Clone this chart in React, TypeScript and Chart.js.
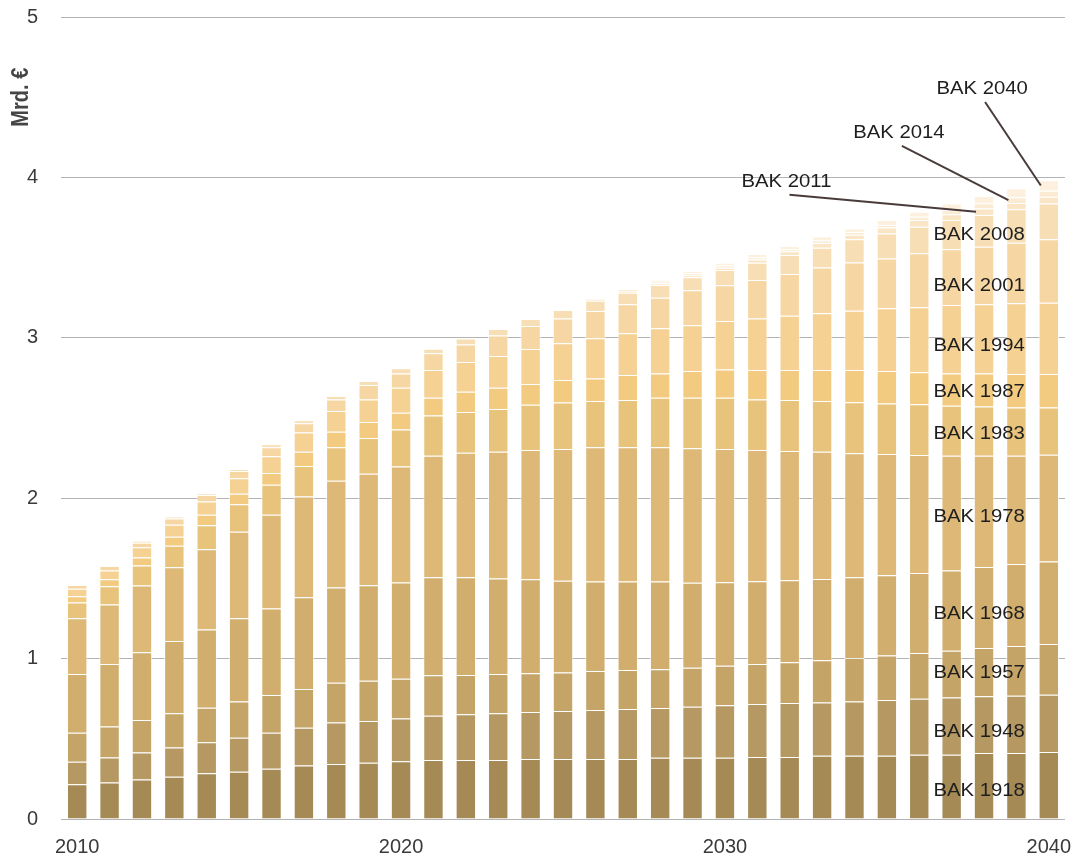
import { useEffect, useRef } from 'react';
import { Chart, registerables } from 'chart.js';

Chart.register(...registerables);

// Years on the category axis
const years = [
  '2010', '2011', '2012', '2013', '2014', '2015', '2016', '2017', '2018', '2019',
  '2020', '2021', '2022', '2023', '2024', '2025', '2026', '2027', '2028', '2029',
  '2030', '2031', '2032', '2033', '2034', '2035', '2036', '2037', '2038', '2039',
  '2040',
];

// Investment per building age class (Mrd. €), stacked bottom to top
const bak1918 = [0.216, 0.227, 0.247, 0.264, 0.285, 0.295, 0.314, 0.333, 0.343, 0.351, 0.360, 0.368, 0.368, 0.368, 0.374, 0.374, 0.374, 0.374, 0.382, 0.382, 0.382, 0.387, 0.387, 0.395, 0.395, 0.395, 0.401, 0.401, 0.411, 0.411, 0.418];
const bak1948 = [0.141, 0.157, 0.167, 0.181, 0.193, 0.212, 0.224, 0.236, 0.258, 0.260, 0.266, 0.276, 0.285, 0.291, 0.293, 0.299, 0.306, 0.312, 0.310, 0.318, 0.327, 0.330, 0.336, 0.332, 0.338, 0.347, 0.349, 0.357, 0.354, 0.358, 0.357];
const bak1957 = [0.181, 0.192, 0.203, 0.214, 0.216, 0.225, 0.235, 0.241, 0.249, 0.251, 0.249, 0.252, 0.245, 0.245, 0.241, 0.241, 0.243, 0.243, 0.241, 0.243, 0.247, 0.249, 0.254, 0.262, 0.271, 0.278, 0.285, 0.291, 0.301, 0.310, 0.316];
const bak1968 = [0.366, 0.390, 0.422, 0.451, 0.488, 0.519, 0.540, 0.572, 0.594, 0.595, 0.600, 0.611, 0.609, 0.596, 0.586, 0.572, 0.557, 0.551, 0.547, 0.530, 0.520, 0.516, 0.511, 0.507, 0.503, 0.499, 0.499, 0.501, 0.505, 0.511, 0.515];
const bak1978 = [0.347, 0.372, 0.416, 0.459, 0.499, 0.540, 0.584, 0.628, 0.665, 0.696, 0.722, 0.758, 0.777, 0.790, 0.806, 0.821, 0.837, 0.837, 0.837, 0.838, 0.831, 0.818, 0.806, 0.794, 0.773, 0.757, 0.735, 0.715, 0.694, 0.675, 0.665];
const bak1983 = [0.098, 0.113, 0.126, 0.135, 0.150, 0.171, 0.187, 0.191, 0.208, 0.222, 0.232, 0.250, 0.253, 0.266, 0.283, 0.289, 0.289, 0.295, 0.310, 0.316, 0.320, 0.316, 0.318, 0.316, 0.318, 0.315, 0.316, 0.312, 0.306, 0.301, 0.295];
const bak1987 = [0.039, 0.043, 0.050, 0.056, 0.066, 0.066, 0.073, 0.089, 0.098, 0.100, 0.104, 0.112, 0.127, 0.133, 0.129, 0.141, 0.141, 0.156, 0.151, 0.166, 0.176, 0.183, 0.187, 0.193, 0.201, 0.202, 0.200, 0.201, 0.207, 0.208, 0.208];
const bak1994 = [0.048, 0.056, 0.063, 0.075, 0.083, 0.096, 0.104, 0.119, 0.129, 0.141, 0.156, 0.172, 0.185, 0.198, 0.218, 0.229, 0.250, 0.260, 0.281, 0.285, 0.301, 0.322, 0.339, 0.354, 0.370, 0.391, 0.405, 0.426, 0.431, 0.441, 0.445];
const bak2001 = [0.023, 0.027, 0.029, 0.039, 0.040, 0.046, 0.056, 0.058, 0.072, 0.090, 0.089, 0.104, 0.110, 0.128, 0.144, 0.155, 0.170, 0.181, 0.191, 0.218, 0.223, 0.239, 0.260, 0.286, 0.301, 0.311, 0.337, 0.348, 0.359, 0.378, 0.395];
const bak2008 = [0, 0, 0.010, 0.011, 0.010, 0.012, 0.019, 0.019, 0.021, 0.025, 0.032, 0.029, 0.036, 0.040, 0.043, 0.052, 0.064, 0.072, 0.079, 0.081, 0.096, 0.108, 0.118, 0.123, 0.144, 0.156, 0.166, 0.182, 0.198, 0.208, 0.224];
const bak2011 = [0, 0, 0, 0, 0, 0, 0, 0, 0, 0, 0, 0, 0, 0, 0, 0, 0.011, 0.011, 0.011, 0.012, 0.014, 0.020, 0.023, 0.029, 0.029, 0.036, 0.041, 0.036, 0.040, 0.040, 0.041];
const bak2014 = [0, 0, 0, 0, 0, 0, 0, 0, 0, 0, 0, 0, 0, 0, 0, 0, 0, 0.012, 0.010, 0.013, 0.013, 0.014, 0.013, 0.015, 0.016, 0.016, 0.021, 0.025, 0.033, 0.035, 0.037];
const bak2040 = [0, 0, 0, 0, 0, 0, 0, 0, 0, 0, 0, 0, 0, 0, 0, 0, 0, 0, 0.010, 0.014, 0.018, 0.020, 0.020, 0.025, 0.023, 0.031, 0.031, 0.043, 0.045, 0.056, 0.067];

const series = [
  { label: 'BAK 1918', data: bak1918, color: '#a58a56' },
  { label: 'BAK 1948', data: bak1948, color: '#b59862' },
  { label: 'BAK 1957', data: bak1957, color: '#c4a467' },
  { label: 'BAK 1968', data: bak1968, color: '#d1ae6d' },
  { label: 'BAK 1978', data: bak1978, color: '#ddb877' },
  { label: 'BAK 1983', data: bak1983, color: '#e8c37c' },
  { label: 'BAK 1987', data: bak1987, color: '#f2cb81' },
  { label: 'BAK 1994', data: bak1994, color: '#f5d194' },
  { label: 'BAK 2001', data: bak2001, color: '#f6d7a3' },
  { label: 'BAK 2008', data: bak2008, color: '#f8deb5' },
  { label: 'BAK 2011', data: bak2011, color: '#fae6c6' },
  { label: 'BAK 2014', data: bak2014, color: '#fbebd3' },
  { label: 'BAK 2040', data: bak2040, color: '#fdf0de' },
];

// Names written inside the stack (axis units) and the column they sit over
const segmentLabelColumn = 27.85;
const segmentLabelValues = [0.173, 0.544, 0.910, 1.278, 1.883, 2.402, 2.664, 2.947, 3.321, 3.639];

// Names written above the stack with a leader line to their segment
const callouts = [
  { series: 10, bar: 28, textX: 21.9, textY: 3.973 },
  { series: 11, bar: 29, textX: 25.37, textY: 4.277 },
  { series: 12, bar: 30, textX: 27.94, textY: 4.551 },
];

const LABEL_FONT = "17.5px 'Liberation Sans', Arial, sans-serif";
const STRETCH = 1.16;

const annotationPlugin = {
  id: 'bakAnnotations',
  afterDatasetsDraw(chart: any) {
    const { ctx, chartArea } = chart;
    const xs = chart.scales.x;
    const ys = chart.scales.y;

    const drawText = (text: string, px: number, py: number) => {
      ctx.save();
      ctx.translate(px, py);
      ctx.scale(STRETCH, 1);
      ctx.fillText(text, 0, 0);
      ctx.restore();
    };

    ctx.save();
    ctx.font = LABEL_FONT;
    ctx.fillStyle = '#1e1e1e';
    ctx.textAlign = 'center';
    ctx.textBaseline = 'middle';

    segmentLabelValues.forEach((v, i) => {
      drawText(series[i].label, xs.getPixelForValue(segmentLabelColumn), ys.getPixelForValue(v));
    });

    callouts.forEach((c) => {
      const tx = xs.getPixelForValue(c.textX);
      const ty = ys.getPixelForValue(c.textY);
      let below = 0;
      for (let i = 0; i < c.series; i++) below += series[i].data[c.bar];
      const seg = series[c.series].data[c.bar];
      const ex = xs.getPixelForValue(c.bar) - 8;
      const ey = ys.getPixelForValue(below + seg / 2);
      ctx.strokeStyle = '#4a3b3b';
      ctx.lineWidth = 2;
      ctx.beginPath();
      ctx.moveTo(tx + 3, ty + 13);
      ctx.lineTo(ex, ey);
      ctx.stroke();
      drawText(series[c.series].label, tx, ty);
    });

    // Axis unit, rotated
    ctx.save();
    ctx.translate(chartArea.left - 39, ys.getPixelForValue(4.5));
    ctx.scale(STRETCH, 1);
    ctx.rotate(-Math.PI / 2);
    ctx.font = "bold 20px 'Liberation Sans', Arial, sans-serif";
    ctx.fillStyle = '#454545';
    ctx.fillText('Mrd. €', 0, 0);
    ctx.restore();

    ctx.restore();
  },
};

export default function App() {
  const canvasRef = useRef<HTMLCanvasElement | null>(null);

  useEffect(() => {
    if (!canvasRef.current) return;
    const tickFont = { family: "'Liberation Sans', Arial, sans-serif", size: 20 };
    const chart = new Chart(canvasRef.current, {
      type: 'bar',
      data: {
        labels: years,
        datasets: series.map((s) => ({
          label: s.label,
          data: s.data,
          backgroundColor: s.color,
          borderColor: 'rgba(255,255,255,0.75)',
          borderWidth: { top: 1, left: 1, right: 1, bottom: 0 },
          borderSkipped: false,
          barPercentage: 0.63,
          categoryPercentage: 1,
        })),
      },
      options: {
        responsive: false,
        animation: false,
        layout: { padding: { top: 17, right: 19, left: 0, bottom: 0 } },
        plugins: {
          legend: { display: false },
          tooltip: { enabled: false },
        },
        scales: {
          x: {
            stacked: true,
            grid: { display: false },
            border: { display: false },
            ticks: {
              autoSkip: false,
              maxRotation: 0,
              padding: 8,
              color: '#3a3a3a',
              font: tickFont,
              callback: (_v: any, i: number) => (years[i].endsWith('0') ? years[i] : ''),
            },
            afterFit: (s: any) => {
              s.height = 39;
              s.paddingLeft = 0;
              s.paddingRight = 0;
            },
          },
          y: {
            stacked: true,
            min: 0,
            max: 5,
            ticks: { stepSize: 1, padding: 23, color: '#3a3a3a', font: tickFont },
            grid: { color: '#b3b3b3', lineWidth: 1, drawTicks: false },
            border: { display: false },
            afterFit: (s: any) => {
              s.width = 61;
              s.paddingTop = 0;
              s.paddingBottom = 0;
            },
          },
        },
      },
      plugins: [annotationPlugin],
    } as any);
    return () => chart.destroy();
  }, []);

  return (
    <div style={{ position: 'absolute', left: 0, top: 0, width: 1084, height: 858, background: '#fff' }}>
      <canvas ref={canvasRef} width={1084} height={858} style={{ display: 'block' }} />
    </div>
  );
}
